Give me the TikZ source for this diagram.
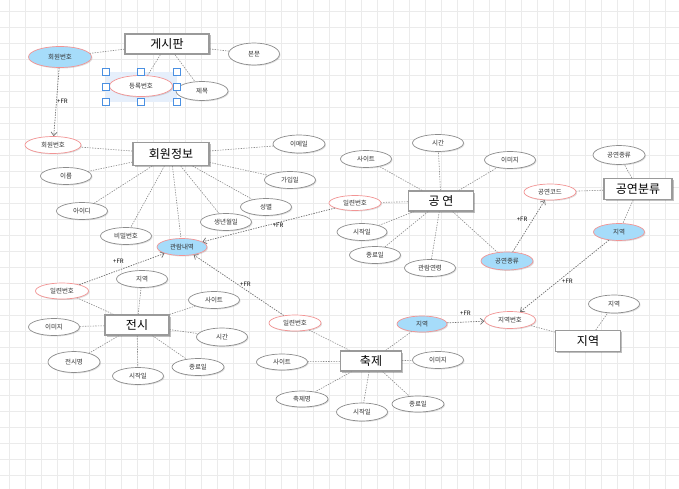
\documentclass[tikz,border=0pt]{standalone}
\usepackage{fontspec}
\newfontfamily\kr{Noto Sans CJK KR}
\usetikzlibrary{shapes.geometric,arrows.meta,shadows}
\definecolor{gridc}{HTML}{EBEBEB}
\definecolor{edgec}{HTML}{8C8C8C}
\definecolor{boxc}{HTML}{9A9A9A}
\definecolor{pinkc}{HTML}{F29494}
\definecolor{bluec}{HTML}{A6DCFA}
\definecolor{selc}{HTML}{4A90E2}
\definecolor{selfill}{HTML}{E6EFFB}
\definecolor{fkc}{HTML}{707070}
\begin{document}
\begin{tikzpicture}[x=1pt,y=-1pt,
  entity/.style={rectangle, draw=boxc, line width=1.1pt, fill=white, inner sep=0pt,
    font=\kr\fontsize{12}{12}\selectfont,
    drop shadow={shadow xshift=1.5pt, shadow yshift=-1.5pt, fill=black, opacity=0.25}},
  attr/.style={ellipse, draw=edgec, line width=0.7pt, fill=white, inner sep=0pt,
    minimum width=51pt, minimum height=17pt, text=black!80,
    font=\kr\fontsize{6.5}{6.5}\selectfont,
    drop shadow={shadow xshift=1pt, shadow yshift=-1pt, fill=black, opacity=0.12}},
  keyattr/.style={attr, draw=pinkc},
  fkattr/.style={attr, draw=pinkc, fill=bluec},
  conn/.style={draw=edgec, line width=0.6pt, dash pattern=on 1.4pt off 1.2pt},
  fk/.style={draw=fkc, line width=0.7pt, dash pattern=on 1.4pt off 1.2pt,
    -{Straight Barb[length=3.5pt,width=6pt]}},
  fr/.style={font=\kr\fontsize{6}{6}\selectfont, inner sep=0pt, anchor=west}
]
\useasboundingbox (0,0) rectangle (679,489);
\fill[white] (0,0) rectangle (679,489);
% grid
\foreach \i in {0,...,42} \draw[gridc, line width=1pt] ({9.67+16*\i},0) -- ({9.67+16*\i},489);
\foreach \j in {0,...,30} \draw[gridc, line width=1pt] (0,{11.33+16*\j}) -- (679,{11.33+16*\j});
% selection area
\fill[selfill] (105.7,71.7) rectangle (177.3,102);

% entities
\node[entity, minimum width=84pt, minimum height=20pt] (e1) at (167,44) {게시판};
\node[entity, minimum width=76pt, minimum height=23pt] (e2) at (171,154) {회원정보};
\node[entity, minimum width=65pt, minimum height=20pt] (e3) at (441,201) {공 연};
\node[entity, minimum width=68pt, minimum height=21pt] (e4) at (638,189) {공연분류};
\node[entity, minimum width=64pt, minimum height=20pt] (e5) at (137,325) {전시};
\node[entity, minimum width=61pt, minimum height=20pt] (e6) at (371,361) {축제};
\node[entity, minimum width=65pt, minimum height=21pt] (e7) at (588,341) {지역};

% attributes
\node[fkattr, minimum width=63pt, minimum height=21pt] (a1) at (60,57) {회원번호};
\node[keyattr, minimum width=63pt, minimum height=21pt] (a2) at (141,86) {등록번호};
\node[attr, minimum height=22pt] (a3) at (254,54) {본문};
\node[attr, minimum width=52pt, minimum height=19pt] (a4) at (202,91) {제목};
\node[keyattr, minimum width=56pt] (a5) at (53,145) {회원번호};
\node[attr, minimum width=52pt, minimum height=18pt] (a6) at (299,144) {이메일};
\node[attr] (a7) at (66,176) {이름};
\node[attr] (a8) at (290,180) {가입일};
\node[attr] (a9) at (82,211) {아이디};
\node[attr] (a10) at (266,207) {성별};
\node[attr] (a11) at (226,222) {생년월일};
\node[attr] (a12) at (126,236) {비밀번호};
\node[fkattr, minimum width=50pt] (a13) at (182,247) {관람내역};
\node[attr] (a14) at (438,143) {시간};
\node[attr] (a15) at (366,159) {사이트};
\node[attr] (a16) at (510,160) {이미지};
\node[attr, minimum width=52pt, minimum height=19pt] (a17) at (619,155) {공연종류};
\node[keyattr, minimum width=52pt, minimum height=16pt] (a18) at (550,192) {공연코드};
\node[keyattr, minimum width=52pt, minimum height=15pt] (a19) at (355,203) {일련번호};
\node[attr, minimum width=50pt] (a20) at (362,232) {시작일};
\node[fkattr] (a21) at (619,232) {지역};
\node[attr] (a22) at (375,255) {종료일};
\node[fkattr, minimum width=52pt, minimum height=18pt] (a23) at (507,261) {공연종류};
\node[attr] (a24) at (430,268) {관람연령};
\node[keyattr, minimum width=53pt, minimum height=16pt] (a25) at (62,291) {일련번호};
\node[attr] (a26) at (142,279) {지역};
\node[attr] (a27) at (214,300) {사이트};
\node[attr] (a28) at (54,327) {이미지};
\node[attr, minimum height=18pt] (a29) at (222,337) {시간};
\node[attr, minimum width=52pt, minimum height=21pt] (a30) at (74,362) {전시명};
\node[attr] (a31) at (138,376) {시작일};
\node[attr, minimum width=52pt] (a32) at (198,367) {종료일};
\node[keyattr, minimum width=52pt, minimum height=16pt] (a33) at (295,323) {일련번호};
\node[attr, minimum height=16pt] (a34) at (282,362) {사이트};
\node[fkattr, minimum width=50pt, minimum height=16pt] (a35) at (422,324) {지역};
\node[keyattr] (a36) at (510,320) {지역번호};
\node[attr, minimum height=18pt] (a37) at (614,304) {지역};
\node[attr] (a38) at (438,360) {이미지};
\node[attr, minimum width=52pt, minimum height=16pt] (a39) at (302,399) {축제명};
\node[attr, minimum height=18pt] (a40) at (362,412) {시작일};
\node[attr, minimum width=52pt, minimum height=16pt] (a41) at (418,404) {종료일};

% connectors
\foreach \a in {a1,a2,a3,a4} \draw[conn] (e1) -- (\a);
\foreach \a in {a5,a6,a7,a8,a9,a10,a11,a12,a13} \draw[conn] (e2) -- (\a);
\foreach \a in {a14,a15,a16,a19,a20,a22,a23,a24} \draw[conn] (e3) -- (\a);
\foreach \a in {a17,a18,a21} \draw[conn] (e4) -- (\a);
\foreach \a in {a25,a26,a27,a28,a29,a30,a31,a32} \draw[conn] (e5) -- (\a);
\foreach \a in {a33,a34,a35,a38,a39,a40,a41} \draw[conn] (e6) -- (\a);
\foreach \a in {a36,a37} \draw[conn] (e7) -- (\a);

% foreign keys
\draw[fk] (a1) -- (a5);
\draw[fk] (a25) -- (a13);
\draw[fk] (a33) -- (a13);
\draw[fk] (a19) -- (a13);
\draw[fk] (a23) -- (a18);
\draw[fk] (a21) -- (a36);
\draw[fk] (a35) -- (a36);
\node[fr] (f1) at (57,101) {+FR};
\node[fr] (f2) at (113,261) {+FR};
\node[fr] (f3) at (240,284) {+FR};
\node[fr] (f4) at (272.7,225.7) {+FR};
\node[fr] (f5) at (516.7,219) {+FR};
\node[fr] (f6) at (562,281) {+FR};
\node[fr] (f7) at (460,313) {+FR};

% selection handles
\foreach \hx/\hy in {105.7/71.7,141.3/71.7,177.3/71.7,105.7/86.7,177.3/86.7,105.7/102,141.3/102,177.3/102}
  \draw[selc, fill=white, line width=0.7pt] ({\hx-3.5},{\hy-3.5}) rectangle ({\hx+3.5},{\hy+3.5});
\end{tikzpicture}
\end{document}
